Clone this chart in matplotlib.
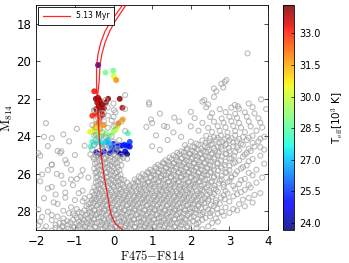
import numpy as np
import matplotlib
matplotlib.use("Agg")
import matplotlib.pyplot as plt

plt.rcParams["mathtext.fontset"] = "cm"

# isochrone (5.13 Myr): lower part + left strand, then right strand of the upper loop
iso_col_a = [0.30, 0.24, 0.15, 0.07, 0.01, -0.06, -0.10, -0.15, -0.19, -0.24, -0.29,
             -0.33, -0.36, -0.38, -0.40, -0.41, -0.43, -0.44, -0.44, -0.40, -0.33,
             -0.22, -0.08, 0.06, 0.20, 0.27, 0.32]
iso_mag_a = [29.1, 29.0, 28.85, 28.7, 28.5, 28.2, 27.8, 27.2, 26.74, 26.2, 25.5,
             24.9, 24.3, 23.72, 23.0, 22.2, 21.8, 21.0, 20.2, 19.6, 19.0,
             18.4, 17.9, 17.5, 17.1, 16.9, 16.8]
iso_col_b = [-0.41, -0.37, -0.35, -0.30, -0.22, -0.10, 0.03, 0.16, 0.29, 0.36, 0.40]
iso_mag_b = [21.8, 21.0, 20.2, 19.6, 19.0, 18.4, 17.9, 17.5, 17.1, 16.9, 16.8]

# stars with spectroscopic Teff (colour, mag, Teff [10^3 K])
hot_col = [-0.40, -0.45, -0.35, -0.25, -0.10, 0.00, 0.12, 0.20, 0.30, 0.35,
           0.00, 0.08, 0.15, 0.22, 0.28, 0.35, 0.42, -0.05, 0.42,
           -0.59, -0.55, -0.45, -0.35, -0.30, -0.20, -0.12, 0.37, -0.15, -0.40,
           -0.21, -0.01, -0.45, -0.30, -0.20, -0.10, 0.00, 0.05,
           0.01, -0.61, -0.50, -0.35, 0.09, 0.10,
           0.07, 0.24, 0.13, -0.45, -0.35, -0.25, -0.50, -0.38,
           -0.50, -0.55, -0.45, -0.35, -0.28, 0.23,
           -0.46, -0.40, -0.35, -0.42, -0.30, -0.38, -0.25, -0.45, -0.32, -0.14, 0.16, -0.20]
hot_mag = [20.20, 24.85, 24.95, 24.80, 24.90, 24.75, 24.85, 24.95, 24.80, 24.95,
           24.40, 24.55, 24.50, 24.50, 24.45, 24.50, 24.30, 24.60, 24.55,
           24.55, 24.30, 24.35, 24.30, 24.45, 24.30, 24.40, 23.84, 24.20, 24.20,
           20.60, 20.50, 23.95, 24.00, 23.85, 23.95, 23.75, 23.65,
           20.80, 23.76, 23.70, 23.75, 23.50, 23.45,
           21.00, 23.10, 23.30, 23.35, 23.50, 23.40, 23.55, 23.25,
           21.60, 22.90, 22.80, 23.00, 22.85, 22.48,
           22.00, 21.95, 22.10, 22.20, 22.30, 22.40, 22.50, 22.55, 22.65, 22.00, 22.00, 22.20]
hot_teff = [24.3, 24.2, 24.0, 24.5, 24.3, 24.4, 24.1, 24.0, 24.2, 23.9,
            25.3, 25.5, 25.0, 25.2, 25.4, 25.1, 25.6, 25.8, 25.0,
            28.0, 27.8, 27.5, 27.6, 27.3, 27.2, 26.8, 28.3, 27.0, 27.8,
            28.8, 28.8, 29.0, 28.6, 29.2, 28.9, 29.4, 29.6,
            30.2, 30.1, 30.3, 30.0, 29.9, 30.2,
            31.8, 31.6, 32.0, 31.5, 31.2, 31.8, 31.0, 32.2,
            33.3, 33.0, 33.2, 32.8, 33.5, 33.8,
            34.2, 34.3, 34.0, 34.1, 34.3, 34.2, 34.0, 34.3, 34.1, 34.2, 34.3, 34.0]

# photometric catalogue (grey)
grey_faint = [
    (-1.60, 29.02), (-1.40, 28.95), (-1.25, 29.05), (-1.10, 28.97), (-0.95, 29.03), (-0.80, 28.92),
    (-0.68, 29.06), (-0.55, 28.98), (-0.40, 29.04), (-0.28, 28.93), (-0.15, 29.01), (-0.02, 28.96),
    (0.10, 29.05), (0.22, 28.94), (0.35, 29.02), (0.47, 28.97), (0.60, 29.06), (0.72, 28.93),
    (0.85, 29.00), (0.98, 28.95), (1.10, 29.04), (1.24, 28.98), (1.37, 29.05), (1.50, 28.94),
    (1.65, 29.02), (1.80, 28.96), (2.00, 29.03), (2.30, 28.95), (2.60, 29.05),
    (-1.75, 28.80), (-1.50, 28.72), (-1.32, 28.78), (-1.18, 28.70), (-1.02, 28.82), (-0.88, 28.74),
    (-0.74, 28.79), (-0.60, 28.70), (-0.47, 28.81), (-0.33, 28.73), (-0.20, 28.77), (-0.07, 28.69),
    (0.06, 28.80), (0.18, 28.72), (0.31, 28.78), (0.44, 28.70), (0.56, 28.83), (0.69, 28.75),
    (0.81, 28.79), (0.94, 28.71), (1.07, 28.80), (1.20, 28.73), (1.33, 28.77), (1.46, 28.68),
    (1.60, 28.80), (1.75, 28.72), (1.92, 28.78), (2.15, 28.70), (2.45, 28.80),
    (-1.90, 28.55), (-1.60, 28.47), (-1.20, 28.52), (-1.05, 28.45), (-0.90, 28.55), (-0.77, 28.48),
    (-0.63, 28.53), (-0.50, 28.44), (-0.37, 28.56), (-0.24, 28.47), (-0.11, 28.52), (0.02, 28.45),
    (0.15, 28.55), (0.28, 28.48), (0.40, 28.53), (0.53, 28.44), (0.66, 28.56), (0.78, 28.47),
    (0.91, 28.52), (1.04, 28.45), (1.17, 28.55), (1.30, 28.48), (1.44, 28.53), (1.58, 28.44),
    (1.72, 28.55), (1.87, 28.47), (2.05, 28.52), (2.30, 28.45), (2.70, 28.55),
    (-1.45, 28.28), (-1.00, 28.22), (-0.85, 28.30), (-0.72, 28.21), (-0.58, 28.27), (-0.45, 28.20),
    (-0.32, 28.30), (-0.19, 28.22), (-0.06, 28.28), (0.07, 28.19), (0.20, 28.29), (0.33, 28.23),
    (0.46, 28.27), (0.59, 28.20), (0.72, 28.30), (0.85, 28.22), (0.98, 28.28), (1.11, 28.19),
    (1.24, 28.29), (1.37, 28.23), (1.50, 28.27), (1.63, 28.20), (1.77, 28.30), (1.92, 28.22),
    (2.08, 28.28), (2.25, 28.19), (2.50, 28.27), (2.85, 28.22),
    (-1.70, 28.02), (-1.30, 27.97), (-0.90, 28.04), (-0.76, 27.95), (-0.62, 28.03), (-0.50, 27.96),
    (-0.37, 28.05), (-0.24, 27.97), (-0.11, 28.02), (0.02, 27.94), (0.15, 28.04), (0.28, 27.97),
    (0.41, 28.03), (0.54, 27.95), (0.67, 28.05), (0.80, 27.96), (0.93, 28.02), (1.06, 27.94),
    (1.19, 28.04), (1.32, 27.97), (1.45, 28.03), (1.58, 27.95), (1.71, 28.05), (1.85, 27.96),
    (2.00, 28.02), (2.15, 27.94), (2.32, 28.04), (2.55, 27.97), (2.80, 28.03), (3.20, 27.95),
    (-1.10, 27.78), (-0.70, 27.72), (-0.57, 27.79), (-0.44, 27.70), (-0.31, 27.77), (-0.18, 27.71),
    (-0.05, 27.80), (0.08, 27.72), (0.21, 27.78), (0.34, 27.70), (0.47, 27.79), (0.60, 27.73),
    (0.73, 27.77), (0.86, 27.70), (0.99, 27.80), (1.12, 27.72), (1.25, 27.78), (1.38, 27.71),
    (1.51, 27.79), (1.64, 27.73), (1.77, 27.77), (1.90, 27.70), (2.04, 27.80), (2.20, 27.72),
    (2.38, 27.78), (2.60, 27.71), (2.90, 27.79), (3.40, 27.73),
    (-1.55, 27.52), (-0.80, 27.46), (-0.60, 27.54), (-0.48, 27.45), (-0.36, 27.53), (-0.23, 27.47),
    (-0.10, 27.55), (0.03, 27.46), (0.16, 27.52), (0.29, 27.45), (0.42, 27.54), (0.55, 27.47),
    (0.68, 27.53), (0.81, 27.45), (0.94, 27.55), (1.07, 27.46), (1.20, 27.52), (1.33, 27.45),
    (1.46, 27.54), (1.59, 27.47), (1.72, 27.53), (1.85, 27.45), (1.98, 27.55), (2.12, 27.46),
    (2.27, 27.52), (2.45, 27.45), (2.65, 27.54), (3.00, 27.47), (3.60, 27.53),
]
grey_mid = [
    (-1.25, 27.27), (-0.62, 27.21), (-0.50, 27.29), (-0.38, 27.20), (-0.26, 27.28), (-0.13, 27.22),
    (0.00, 27.27), (0.13, 27.19), (0.26, 27.29), (0.39, 27.21), (0.52, 27.27), (0.65, 27.20),
    (0.78, 27.28), (0.91, 27.22), (1.04, 27.27), (1.17, 27.19), (1.30, 27.29), (1.43, 27.21),
    (1.56, 27.27), (1.69, 27.20), (1.82, 27.28), (1.95, 27.22), (2.08, 27.27), (2.22, 27.19),
    (2.37, 27.29), (2.55, 27.21), (2.78, 27.27), (3.10, 27.20), (3.50, 27.28),
    (-0.90, 27.03), (-0.55, 26.96), (-0.42, 27.04), (-0.30, 26.95), (-0.17, 27.03), (-0.04, 26.97),
    (0.09, 27.05), (0.22, 26.96), (0.35, 27.02), (0.48, 26.95), (0.61, 27.04), (0.74, 26.97),
    (0.87, 27.03), (1.00, 26.95), (1.13, 27.05), (1.26, 26.96), (1.39, 27.02), (1.52, 26.95),
    (1.65, 27.04), (1.78, 26.97), (1.91, 27.03), (2.04, 26.95), (2.18, 27.05), (2.33, 26.96),
    (2.50, 27.02), (2.70, 26.95), (2.95, 27.04), (3.30, 26.97), (3.80, 27.03),
    (-1.70, 26.78), (-0.50, 26.72), (-0.38, 26.79), (-0.25, 26.70), (-0.12, 26.77), (0.01, 26.71),
    (0.14, 26.80), (0.27, 26.72), (0.40, 26.78), (0.53, 26.70), (0.66, 26.79), (0.79, 26.73),
    (0.92, 26.77), (1.05, 26.70), (1.18, 26.80), (1.31, 26.72), (1.44, 26.78), (1.57, 26.71),
    (1.70, 26.79), (1.83, 26.73), (1.96, 26.77), (2.10, 26.70), (2.25, 26.80), (2.42, 26.72),
    (2.60, 26.78), (2.85, 26.71), (3.15, 26.79), (3.55, 26.73),
    (-1.30, 26.52), (-0.46, 26.46), (-0.34, 26.54), (-0.21, 26.45), (-0.08, 26.53), (0.05, 26.47),
    (0.18, 26.55), (0.35, 26.46), (0.50, 26.52), (0.63, 26.45), (0.76, 26.54), (0.89, 26.47),
    (1.02, 26.53), (1.15, 26.45), (1.28, 26.55), (1.41, 26.46), (1.54, 26.52), (1.67, 26.45),
    (1.80, 26.54), (1.93, 26.47), (2.06, 26.53), (2.20, 26.45), (2.35, 26.55), (2.52, 26.46),
    (2.72, 26.52), (2.95, 26.45), (3.25, 26.54), (3.70, 26.47),
    (-0.95, 26.27), (-0.45, 26.21), (-0.32, 26.29), (-0.19, 26.20), (-0.06, 26.28), (0.07, 26.22),
    (0.20, 26.27), (0.55, 26.30), (0.70, 26.21), (0.84, 26.27), (0.97, 26.20), (1.10, 26.28),
    (1.23, 26.22), (1.36, 26.27), (1.49, 26.19), (1.62, 26.29), (1.75, 26.21), (1.88, 26.27),
    (2.01, 26.20), (2.14, 26.28), (2.28, 26.22), (2.43, 26.27), (2.60, 26.19), (2.80, 26.29),
    (3.05, 26.21), (3.40, 26.27), (3.85, 26.20),
    (-1.85, 26.03), (-0.47, 25.96), (-0.34, 26.04), (-0.21, 25.95), (-0.08, 26.03), (0.05, 25.97),
    (0.18, 26.05), (0.75, 26.02), (0.90, 25.96), (1.03, 26.04), (1.16, 25.95), (1.29, 26.03),
    (1.42, 25.97), (1.55, 26.05), (1.68, 25.96), (1.81, 26.02), (1.94, 25.95), (2.07, 26.04),
    (2.20, 25.97), (2.34, 26.03), (2.50, 25.95), (2.68, 26.05), (2.90, 25.96), (3.15, 26.02),
    (3.50, 25.95),
    (-1.10, 25.78), (-0.50, 25.72), (-0.37, 25.79), (-0.24, 25.70), (-0.11, 25.77), (0.02, 25.71),
    (0.15, 25.80), (0.95, 25.78), (1.10, 25.72), (1.23, 25.79), (1.36, 25.70), (1.49, 25.77),
    (1.62, 25.71), (1.75, 25.80), (1.88, 25.72), (2.01, 25.78), (2.14, 25.70), (2.28, 25.79),
    (2.43, 25.73), (2.60, 25.77), (2.80, 25.70), (3.00, 25.80), (3.30, 25.72), (3.70, 25.78),
    (-1.60, 25.52), (-0.48, 25.46), (-0.35, 25.54), (-0.22, 25.45), (-0.09, 25.53), (0.04, 25.47),
    (0.20, 25.55), (1.15, 25.52), (1.30, 25.46), (1.43, 25.54), (1.56, 25.45), (1.69, 25.53),
    (1.82, 25.47), (1.95, 25.55), (2.08, 25.46), (2.21, 25.52), (2.35, 25.45), (2.50, 25.54),
    (2.68, 25.47), (2.88, 25.53), (3.10, 25.45), (3.45, 25.55), (3.90, 25.46),
    (-1.25, 25.27), (-0.50, 25.21), (-0.36, 25.29), (-0.23, 25.20), (-0.10, 25.28), (0.03, 25.22),
    (0.17, 25.27), (0.35, 25.20), (1.35, 25.28), (1.50, 25.22), (1.63, 25.27), (1.76, 25.19),
    (1.89, 25.29), (2.02, 25.21), (2.15, 25.27), (2.29, 25.20), (2.44, 25.28), (2.60, 25.22),
    (2.78, 25.27), (3.00, 25.19), (3.25, 25.29), (3.60, 25.21),
]
grey_fill = [
    (-1.50, 28.88), (-1.33, 28.84), (-1.17, 28.91), (-1.02, 28.86), (-0.87, 28.90), (-0.74, 28.83),
    (-0.61, 28.89), (-0.48, 28.85), (-0.34, 28.92), (-0.21, 28.84), (-0.08, 28.88), (0.04, 28.83),
    (0.16, 28.91), (0.29, 28.86), (0.41, 28.89), (0.54, 28.84), (0.66, 28.92), (0.79, 28.85),
    (0.91, 28.88), (1.04, 28.83), (1.17, 28.90), (1.30, 28.86), (1.43, 28.89), (1.57, 28.84),
    (1.72, 28.91), (1.90, 28.85), (2.15, 28.88),
    (-1.40, 28.62), (-1.12, 28.58), (-0.97, 28.65), (-0.82, 28.60), (-0.69, 28.64), (-0.56, 28.57),
    (-0.43, 28.63), (-0.30, 28.59), (-0.17, 28.66), (-0.04, 28.58), (0.09, 28.62), (0.22, 28.57),
    (0.34, 28.65), (0.47, 28.60), (0.60, 28.63), (0.72, 28.58), (0.85, 28.66), (0.98, 28.59),
    (1.11, 28.62), (1.24, 28.57), (1.37, 28.64), (1.51, 28.60), (1.65, 28.63), (1.80, 28.58),
    (1.97, 28.65), (2.20, 28.59), (2.55, 28.62),
    (-1.30, 28.38), (-0.95, 28.34), (-0.80, 28.41), (-0.66, 28.36), (-0.52, 28.40), (-0.39, 28.33),
    (-0.26, 28.39), (-0.13, 28.35), (0.00, 28.42), (0.13, 28.34), (0.26, 28.38), (0.39, 28.33),
    (0.52, 28.41), (0.65, 28.36), (0.78, 28.39), (0.91, 28.34), (1.04, 28.42), (1.17, 28.35),
    (1.30, 28.38), (1.43, 28.33), (1.57, 28.40), (1.71, 28.36), (1.85, 28.39), (2.00, 28.34),
    (2.17, 28.41), (2.38, 28.35), (2.65, 28.38),
    (-1.05, 28.12), (-0.82, 28.08), (-0.68, 28.15), (-0.55, 28.10), (-0.42, 28.14), (-0.29, 28.07),
    (-0.16, 28.13), (-0.03, 28.09), (0.10, 28.16), (0.23, 28.08), (0.36, 28.12), (0.49, 28.07),
    (0.62, 28.15), (0.75, 28.10), (0.88, 28.13), (1.01, 28.08), (1.14, 28.16), (1.27, 28.09),
    (1.40, 28.12), (1.53, 28.07), (1.67, 28.14), (1.81, 28.10), (1.96, 28.13), (2.12, 28.08),
    (2.30, 28.15), (2.50, 28.09), (2.70, 28.12), (3.00, 28.08),
    (-0.95, 27.88), (-0.64, 27.84), (-0.50, 27.91), (-0.37, 27.86), (-0.24, 27.90), (-0.11, 27.83),
    (0.02, 27.89), (0.15, 27.85), (0.28, 27.92), (0.41, 27.84), (0.54, 27.88), (0.67, 27.83),
    (0.80, 27.91), (0.93, 27.86), (1.06, 27.89), (1.19, 27.84), (1.32, 27.92), (1.45, 27.85),
    (1.58, 27.88), (1.71, 27.83), (1.84, 27.90), (1.97, 27.86), (2.11, 27.89), (2.27, 27.84),
    (2.45, 27.91), (2.68, 27.85), (3.10, 27.88),
    (-0.65, 27.62), (-0.52, 27.58), (-0.40, 27.65), (-0.28, 27.60), (-0.15, 27.64), (-0.02, 27.57),
    (0.11, 27.63), (0.24, 27.59), (0.37, 27.66), (0.50, 27.58), (0.63, 27.62), (0.76, 27.57),
    (0.89, 27.65), (1.02, 27.60), (1.15, 27.63), (1.28, 27.58), (1.41, 27.66), (1.54, 27.59),
    (1.67, 27.62), (1.80, 27.57), (1.93, 27.64), (2.06, 27.60), (2.20, 27.63), (2.35, 27.58),
    (2.52, 27.65), (2.75, 27.59), (3.25, 27.62),
    (-0.56, 27.38), (-0.44, 27.34), (-0.31, 27.41), (-0.18, 27.36), (-0.05, 27.40), (0.08, 27.33),
    (0.21, 27.39), (0.34, 27.35), (0.47, 27.42), (0.60, 27.34), (0.73, 27.38), (0.86, 27.33),
    (0.99, 27.41), (1.12, 27.36), (1.25, 27.39), (1.38, 27.34), (1.51, 27.42), (1.64, 27.35),
    (1.77, 27.38), (1.90, 27.33), (2.03, 27.40), (2.16, 27.36), (2.30, 27.39), (2.46, 27.34),
    (2.65, 27.41), (2.88, 27.35), (3.35, 27.38),
    (-0.50, 27.12), (-0.36, 27.08), (-0.23, 27.15), (-0.10, 27.10), (0.03, 27.14), (0.16, 27.07),
    (0.29, 27.13), (0.42, 27.09), (0.55, 27.16), (0.68, 27.08), (0.81, 27.12), (0.94, 27.07),
    (1.07, 27.15), (1.20, 27.10), (1.33, 27.13), (1.46, 27.08), (1.59, 27.16), (1.72, 27.09),
    (1.85, 27.12), (1.98, 27.07), (2.12, 27.14), (2.27, 27.10), (2.42, 27.13), (2.60, 27.08),
    (2.85, 27.15), (3.20, 27.09), (3.65, 27.12),
    (-0.46, 26.88), (-0.33, 26.84), (-0.20, 26.91), (-0.07, 26.86), (0.06, 26.90), (0.19, 26.83),
    (0.32, 26.89), (0.45, 26.85), (0.58, 26.92), (0.71, 26.84), (0.84, 26.88), (0.97, 26.83),
    (1.10, 26.91), (1.23, 26.86), (1.36, 26.89), (1.49, 26.84), (1.62, 26.92), (1.75, 26.85),
    (1.88, 26.88), (2.01, 26.83), (2.15, 26.90), (2.30, 26.86), (2.47, 26.89), (2.65, 26.84),
    (2.90, 26.91), (3.40, 26.85),
    (-0.42, 26.62), (-0.28, 26.58), (-0.15, 26.65), (-0.02, 26.60), (0.11, 26.64), (0.24, 26.57),
    (0.42, 26.63), (0.56, 26.59), (0.69, 26.66), (0.82, 26.58), (0.95, 26.62), (1.08, 26.57),
    (1.21, 26.65), (1.34, 26.60), (1.47, 26.63), (1.60, 26.58), (1.73, 26.66), (1.86, 26.59),
    (1.99, 26.62), (2.13, 26.57), (2.28, 26.64), (2.45, 26.60), (2.62, 26.63), (2.85, 26.58),
    (3.10, 26.65), (3.50, 26.59),
    (-0.40, 26.38), (-0.26, 26.34), (-0.13, 26.41), (0.00, 26.36), (0.13, 26.40), (0.27, 26.33),
    (0.60, 26.39), (0.76, 26.35), (0.90, 26.42), (1.04, 26.34), (1.17, 26.38), (1.30, 26.33),
    (1.43, 26.41), (1.56, 26.36), (1.69, 26.39), (1.82, 26.34), (1.95, 26.42), (2.08, 26.35),
    (2.22, 26.38), (2.37, 26.33), (2.55, 26.40), (2.75, 26.36), (3.00, 26.39), (3.30, 26.34),
    (-0.42, 26.12), (-0.28, 26.08), (-0.14, 26.15), (0.00, 26.10), (0.12, 26.14), (0.66, 26.13),
    (0.82, 26.09), (0.96, 26.16), (1.10, 26.08), (1.23, 26.12), (1.36, 26.07), (1.49, 26.15),
    (1.62, 26.10), (1.75, 26.13), (1.88, 26.08), (2.01, 26.16), (2.14, 26.09), (2.28, 26.12),
    (2.43, 26.07), (2.60, 26.14), (2.80, 26.10), (3.05, 26.13), (3.60, 26.08),
    (-0.44, 25.88), (-0.30, 25.84), (-0.17, 25.91), (-0.04, 25.86), (0.09, 25.90), (0.88, 25.89),
    (1.02, 25.85), (1.16, 25.92), (1.30, 25.84), (1.43, 25.88), (1.56, 25.83), (1.69, 25.91),
    (1.82, 25.86), (1.95, 25.89), (2.08, 25.84), (2.21, 25.92), (2.36, 25.85), (2.52, 25.88),
    (2.70, 25.83), (2.92, 25.90), (3.20, 25.86),
    (-0.42, 25.62), (-0.29, 25.58), (-0.16, 25.65), (-0.03, 25.60), (0.11, 25.64), (1.08, 25.63),
    (1.22, 25.59), (1.36, 25.66), (1.50, 25.58), (1.63, 25.62), (1.76, 25.57), (1.89, 25.65),
    (2.02, 25.60), (2.15, 25.63), (2.28, 25.58), (2.42, 25.66), (2.58, 25.59), (2.78, 25.62),
    (3.00, 25.57), (3.35, 25.64),
    (-0.43, 25.38), (-0.30, 25.34), (-0.16, 25.41), (-0.03, 25.36), (0.10, 25.40), (1.28, 25.39),
    (1.42, 25.35), (1.56, 25.42), (1.70, 25.34), (1.83, 25.38), (1.96, 25.33), (2.09, 25.41),
    (2.22, 25.36), (2.37, 25.39), (2.52, 25.34), (2.70, 25.42), (2.90, 25.35), (3.15, 25.38),
    (3.50, 25.33),
    (-0.52, 25.12), (-0.38, 25.08), (-0.24, 25.15), (-0.08, 25.10), (0.10, 25.14), (1.45, 25.13),
    (1.62, 25.09), (1.77, 25.16), (1.91, 25.08), (2.04, 25.12), (2.17, 25.07), (2.31, 25.15),
    (2.46, 25.10), (2.62, 25.13), (2.80, 25.08), (3.05, 25.16), (3.35, 25.09),
    (1.65, 24.88), (1.82, 24.84), (1.97, 24.91), (2.11, 24.86), (2.25, 24.90), (2.40, 24.83),
    (2.56, 24.89), (2.72, 24.85), (2.92, 24.92), (3.15, 24.84), (3.45, 24.88),
    (1.90, 24.62), (2.10, 24.58), (2.27, 24.65), (2.43, 24.60), (2.60, 24.64), (2.78, 24.57),
    (2.98, 24.63), (3.20, 24.59), (3.50, 24.66), (3.80, 24.58),
    (2.15, 24.38), (2.38, 24.34), (2.56, 24.41), (2.74, 24.36), (2.92, 24.40), (3.10, 24.33),
    (3.30, 24.39), (3.60, 24.35),
    (2.50, 24.12), (2.70, 24.08), (2.88, 24.15), (3.05, 24.10), (3.25, 24.14), (3.50, 24.07),
    (3.80, 24.13),
]
grey_bright = [
    (-1.90, 25.03), (-0.60, 24.96), (-0.45, 25.04), (-0.30, 24.95), (-0.15, 25.03), (0.00, 24.97),
    (0.20, 25.05), (1.55, 25.02), (1.70, 24.96), (1.84, 25.04), (1.97, 24.95), (2.10, 25.03),
    (2.24, 24.97), (2.38, 25.05), (2.53, 24.96), (2.70, 25.02), (2.90, 24.95), (3.12, 25.04),
    (3.40, 24.97), (3.80, 25.03),
    (-1.45, 24.78), (-0.55, 24.72), (-0.38, 24.79), (-0.20, 24.70), (0.05, 24.77), (1.20, 24.72),
    (1.75, 24.80), (1.90, 24.72), (2.04, 24.78), (2.18, 24.70), (2.32, 24.79), (2.47, 24.73),
    (2.63, 24.77), (2.80, 24.70), (3.00, 24.80), (3.25, 24.72), (3.55, 24.78), (3.90, 24.71),
    (-1.70, 24.52), (-0.50, 24.46), (-0.25, 24.54), (0.10, 24.45), (1.00, 24.53), (1.85, 24.47),
    (2.05, 24.55), (2.20, 24.46), (2.36, 24.52), (2.52, 24.45), (2.70, 24.54), (2.90, 24.47),
    (3.10, 24.53), (3.35, 24.45), (3.65, 24.55),
    (-1.15, 24.27), (-0.45, 24.21), (0.00, 24.29), (1.40, 24.20), (2.00, 24.28), (2.30, 24.22),
    (2.48, 24.27), (2.65, 24.19), (2.82, 24.29), (3.00, 24.21), (3.20, 24.27), (3.45, 24.20),
    (3.75, 24.28),
    (-1.80, 24.03), (-0.50, 23.96), (-0.20, 24.04), (1.10, 23.95), (1.75, 24.03), (2.40, 23.97),
    (2.60, 24.05), (2.78, 23.96), (2.95, 24.02), (3.15, 23.95), (3.35, 24.04), (3.60, 23.97),
    (3.90, 24.03),
    (-0.30, 23.78), (0.30, 23.72), (1.55, 23.79), (2.20, 23.70), (2.55, 23.77), (2.75, 23.71),
    (2.95, 23.80), (3.15, 23.72), (3.40, 23.78), (3.70, 23.70),
    (-0.45, 23.52), (0.00, 23.46), (0.85, 23.50), (1.31, 23.45), (1.39, 23.50), (2.00, 23.47),
    (2.45, 23.55), (2.70, 23.46), (2.90, 23.52), (3.10, 23.45), (3.30, 23.54), (3.55, 23.47),
    (3.85, 23.53),
    (-0.35, 23.27), (0.20, 23.21), (1.00, 23.29), (1.70, 23.20), (2.30, 23.28), (2.60, 23.22),
    (2.85, 23.27), (3.05, 23.19), (3.25, 23.29), (3.50, 23.21), (3.80, 23.27),
    (-0.40, 23.03), (0.00, 22.96), (0.97, 23.10), (1.57, 23.00), (2.10, 23.03), (2.50, 22.97),
    (2.80, 23.05), (3.00, 22.96), (3.20, 23.02), (3.45, 22.95), (3.75, 23.04),
    (-0.25, 22.78), (0.05, 22.72), (1.20, 22.79), (2.00, 22.70), (2.55, 22.77), (2.90, 22.71),
    (3.15, 22.80), (3.40, 22.72), (3.65, 22.78),
    (-0.50, 22.60), (-0.15, 22.46), (0.01, 22.60), (0.30, 22.54), (0.92, 22.30), (2.40, 22.45),
    (2.75, 22.55), (3.05, 22.47), (3.25, 22.53), (3.60, 22.45), (3.95, 22.55),
    (0.00, 22.25), (0.92, 22.20), (2.30, 22.15), (2.45, 22.30), (3.14, 22.33), (3.22, 22.40),
    (3.50, 22.25), (-0.21, 22.07), (0.30, 21.80), (2.35, 22.07), (3.82, 22.03),
    (2.60, 21.90), (2.66, 21.60), (2.60, 21.45), (2.79, 21.20), (2.84, 21.40), (2.88, 21.10),
    (2.92, 21.00), (3.47, 19.58),
    (-0.50, 22.62), (-0.30, 22.75), (-0.15, 22.90), (-0.45, 23.10), (-0.25, 23.20), (-0.05, 23.15),
    (-0.55, 23.40), (-0.35, 23.60), (-0.15, 23.55), (0.05, 23.40), (-0.45, 23.90), (-0.25, 24.10),
    (-0.05, 24.00), (0.15, 24.20), (-0.50, 24.45), (-0.30, 24.60), (-0.10, 24.55), (0.10, 24.65),
    (-0.40, 25.00), (-0.20, 25.10), (0.05, 25.05), (0.25, 25.15),
]
grey_left = [
    (-1.95, 24.90), (-1.38, 24.88), (-1.35, 24.80), (-1.60, 25.50), (-1.21, 25.45), (-1.47, 26.00),
    (-1.35, 26.10), (-1.90, 26.40), (-1.60, 26.70), (-1.05, 26.60), (-1.25, 27.00), (-0.80, 26.90),
    (-1.80, 27.30), (-1.45, 27.60), (-1.00, 27.40), (-0.75, 27.30), (-1.95, 27.90), (-1.60, 28.20),
    (-1.85, 28.30), (-1.15, 28.10), (-0.65, 26.20), (-0.80, 25.80), (-1.00, 25.00), (-0.75, 24.50),
    (-1.60, 24.10), (-1.30, 23.90), (-0.95, 23.60), (-1.75, 23.30), (-1.50, 27.10), (-1.10, 26.30),
    (-0.85, 26.10), (-1.70, 25.80), (-1.30, 28.60), (-1.95, 28.75), (-1.80, 29.00),
]

fig = plt.figure(figsize=(3.49, 2.63), dpi=100)
ax = fig.add_axes([0.104, 0.125, 0.664, 0.856])
cax = fig.add_axes([0.811, 0.125, 0.032, 0.856])

sc = ax.scatter(hot_col, hot_mag, c=hot_teff, cmap="jet", vmin=23.65, vmax=34.35,
                s=18, edgecolors="none", alpha=0.85, zorder=2)
for pts in (grey_faint, grey_mid, grey_fill, grey_bright, grey_left):
    gx, gy = np.array(pts).T
    ax.scatter(gx, gy, s=13, facecolors="none", edgecolors="#a0a0a0",
               linewidths=0.8, alpha=0.7, zorder=3)

ax.plot(iso_col_a, iso_mag_a, color="red", lw=0.9, alpha=0.85, zorder=4, label="5.13 Myr")
ax.plot(iso_col_b, iso_mag_b, color="red", lw=0.9, alpha=0.85, zorder=4)

ax.set_xlim(-2, 4)
ax.set_ylim(29, 17)
ax.set_xticks(range(-2, 5))
ax.set_yticks(range(18, 29, 2))
ax.tick_params(direction="in", top=True, right=True, labelsize=8.5, length=3, width=0.5)
for sp in ax.spines.values():
    sp.set_linewidth(0.6)
ax.set_xlabel(r"$\mathrm{F475{-}F814}$", fontsize=9, labelpad=1)
ax.set_ylabel(r"$\mathrm{M}_{814}$", fontsize=9.5, labelpad=1)

leg = ax.legend(loc="upper left", fontsize=5.5, handlelength=3.5, borderaxespad=0.25,
                borderpad=0.6, fancybox=False, framealpha=1, edgecolor="black")
leg.get_frame().set_linewidth(0.6)

cb = fig.colorbar(sc, cax=cax, ticks=np.arange(24.0, 33.5, 1.5), format="%.1f")
cb.ax.tick_params(labelsize=7, length=2, width=0.5, direction="in")
cb.outline.set_linewidth(0.6)
cb.set_label(r"T$_{\rm eff}$[10$^3$ K]", fontsize=7.5, labelpad=6)

fig.savefig("out.png", dpi=100)
